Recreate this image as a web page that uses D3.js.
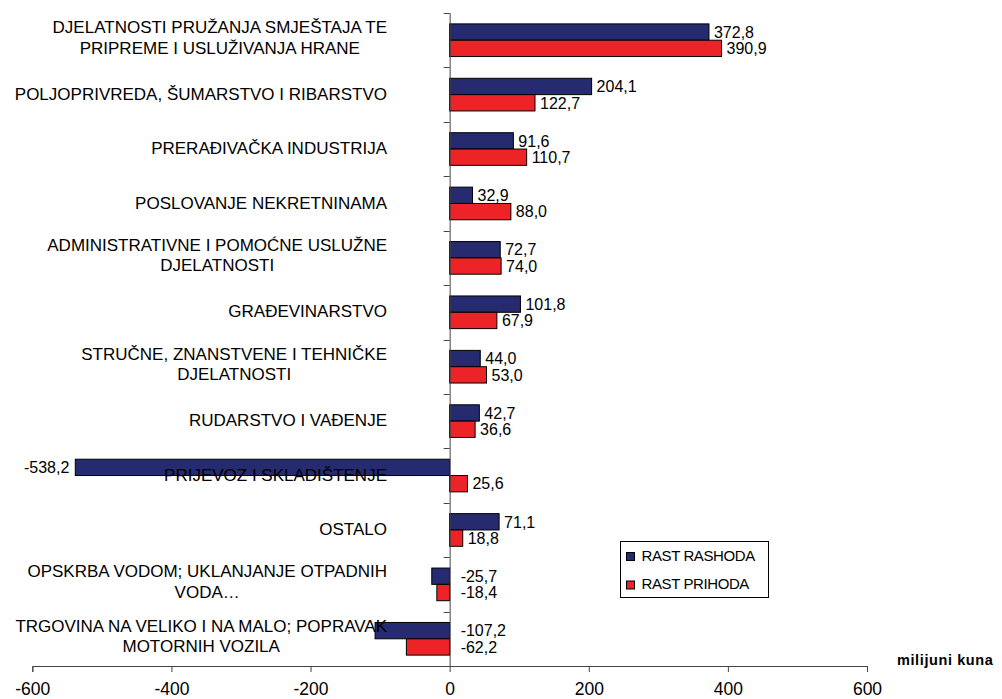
<!DOCTYPE html>
<html>
<head>
<meta charset="utf-8">
<script src="https://cdn.jsdelivr.net/npm/d3@7"></script>
<style>
  body { margin: 0; background: #fff; }
  svg { font-family: "Liberation Sans", Arial, sans-serif; }
</style>
</head>
<body>
<svg width="1002" height="699"></svg>
<script>
// kategorije (redovi odozgo prema dolje), "\n" = prijelom retka
var categories = [
    "DJELATNOSTI PRUŽANJA SMJEŠTAJA TE\nPRIPREME I USLUŽIVANJA HRANE",
    "POLJOPRIVREDA, ŠUMARSTVO I RIBARSTVO",
    "PRERAĐIVAČKA INDUSTRIJA",
    "POSLOVANJE NEKRETNINAMA",
    "ADMINISTRATIVNE I POMOĆNE USLUŽNE\nDJELATNOSTI",
    "GRAĐEVINARSTVO",
    "STRUČNE, ZNANSTVENE I TEHNIČKE\nDJELATNOSTI",
    "RUDARSTVO I VAĐENJE",
    "PRIJEVOZ I SKLADIŠTENJE",
    "OSTALO",
    "OPSKRBA VODOM; UKLANJANJE OTPADNIH\nVODA…",
    "TRGOVINA NA VELIKO I NA MALO; POPRAVAK\nMOTORNIH VOZILA"
];
var rastRashoda = [372.8, 204.1, 91.6, 32.9, 72.7, 101.8, 44.0, 42.7, -538.2, 71.1, -25.7, -107.2];
var rastPrihoda = [390.9, 122.7, 110.7, 88.0, 74.0, 67.9, 53.0, 36.6, 25.6, 18.8, -18.4, -62.2];
var seriesNames = ["RAST RASHODA", "RAST PRIHODA"];
var colors = ["#262a6e", "#ee2328"];
var xTicks = [-600, -400, -200, 0, 200, 400, 600];
var unitLabel = "milijuni kuna";

var svg = d3.select("svg");

var x = d3.scaleLinear().domain([-600, 600]).range([32.3, 867]);
var y0 = d3.scaleBand().domain(d3.range(categories.length)).range([13, 666])
    .paddingInner(0.4).paddingOuter(0.2);
var y1 = d3.scaleBand().domain([0, 1]).range([0, y0.bandwidth()]);

// decimalni zarez, obični minus
var fmt = function(v) { return v.toFixed(1).replace(".", ","); };

var rows = categories.map(function(c, i) {
    return { i: i, name: c, values: [rastRashoda[i], rastPrihoda[i]] };
});

// bars
var g = svg.append("g");
var grp = g.selectAll("g.row").data(rows).enter().append("g")
    .attr("class", "row")
    .attr("transform", function(d) { return "translate(0," + y0(d.i) + ")"; });

grp.selectAll("rect")
    .data(function(d) { return d.values.map(function(v, k) { return { k: k, v: v }; }); })
    .enter().append("rect")
    .attr("x", function(d) { return x(Math.min(0, d.v)); })
    .attr("y", function(d) { return y1(d.k); })
    .attr("width", function(d) { return Math.abs(x(d.v) - x(0)); })
    .attr("height", y1.bandwidth())
    .attr("fill", function(d) { return colors[d.k]; })
    .attr("stroke", "#000")
    .attr("stroke-width", 1);

// value labels
grp.selectAll("text.val")
    .data(function(d) { return d.values.map(function(v, k) { return { k: k, v: v }; }); })
    .enter().append("text")
    .attr("class", "val")
    .attr("font-size", 16)
    .attr("fill", "#000")
    .attr("y", function(d) { return y1(d.k) + y1.bandwidth() / 2; })
    .attr("dy", "0.36em")
    .attr("x", function(d) {
        if (d.v >= 0) return x(d.v) + 5;
        if (d.v < -300) return x(d.v) - 6;
        return x(0) + 11;
    })
    .attr("text-anchor", function(d) { return d.v < -300 ? "end" : "start"; })
    .text(function(d) { return fmt(d.v); });

// y axis
svg.append("line")
    .attr("x1", x(0) + 0.5).attr("x2", x(0) + 0.5)
    .attr("y1", 13).attr("y2", 666)
    .attr("stroke", "#444");
var yTickPos = d3.range(categories.length + 1).map(function(i) { return 13 + i * y0.step(); });
svg.selectAll("line.ytick").data(yTickPos).enter().append("line")
    .attr("class", "ytick")
    .attr("x1", x(0) - 6).attr("x2", x(0))
    .attr("y1", function(d) { return Math.round(d) + 0.5; })
    .attr("y2", function(d) { return Math.round(d) + 0.5; })
    .attr("stroke", "#444");

// category labels (drawn on top of bars)
var labelRight = 387;
var lineH = 20.6;
rows.forEach(function(r) {
    var lines = r.name.split("\n");
    var cy = y0(r.i) + y0.bandwidth() / 2;
    var t = svg.append("text")
        .attr("font-size", 17)
        .attr("fill", "#000");
    var spans = lines.map(function(l, j) {
        return t.append("tspan")
            .attr("y", cy - 3 + (j - (lines.length - 1) / 2) * lineH)
            .attr("dy", "0.36em")
            .text(l);
    });
    var maxW = d3.max(spans, function(s) { return s.node().getComputedTextLength(); });
    spans.forEach(function(s) {
        s.attr("x", labelRight - maxW / 2).attr("text-anchor", "middle");
    });
    if (lines.length === 1) spans[0].attr("y", cy - 1);
});

// x axis
var xa = svg.append("g")
    .attr("transform", "translate(0,666)")
    .call(d3.axisBottom(x).tickValues(xTicks).tickSize(6).tickPadding(11));
xa.select(".domain").attr("stroke", "#444");
xa.selectAll(".tick line").attr("stroke", "#444");
xa.selectAll(".tick text")
    .attr("font-size", 17.5)
    .attr("font-family", "'Liberation Sans', Arial, sans-serif")
    .attr("fill", "#000")
    .text(function(d) { return String(d); });

svg.append("text")
    .attr("x", 897).attr("y", 665)
    .attr("font-size", 14.5)
    .attr("font-weight", "bold")
    .attr("letter-spacing", 0.6)
    .attr("fill", "#000")
    .text(unitLabel);

// legend
var leg = svg.append("g").attr("transform", "translate(620,541)");
leg.append("rect")
    .attr("x", 0.5).attr("y", 0.5)
    .attr("width", 148).attr("height", 56)
    .attr("fill", "#fff").attr("stroke", "#000");
var items = leg.selectAll("g.item").data(seriesNames).enter().append("g")
    .attr("class", "item")
    .attr("transform", function(d, i) { return "translate(0," + (i * 28.5) + ")"; });
items.append("rect")
    .attr("x", 6.5).attr("y", 11.5)
    .attr("width", 8).attr("height", 8)
    .attr("fill", function(d, i) { return colors[i]; })
    .attr("stroke", "#000");
items.append("text")
    .attr("x", 21.5).attr("y", 19.5)
    .attr("font-size", 15)
    .attr("letter-spacing", -0.4)
    .attr("fill", "#000")
    .text(function(d) { return d; });
</script>
</body>
</html>
